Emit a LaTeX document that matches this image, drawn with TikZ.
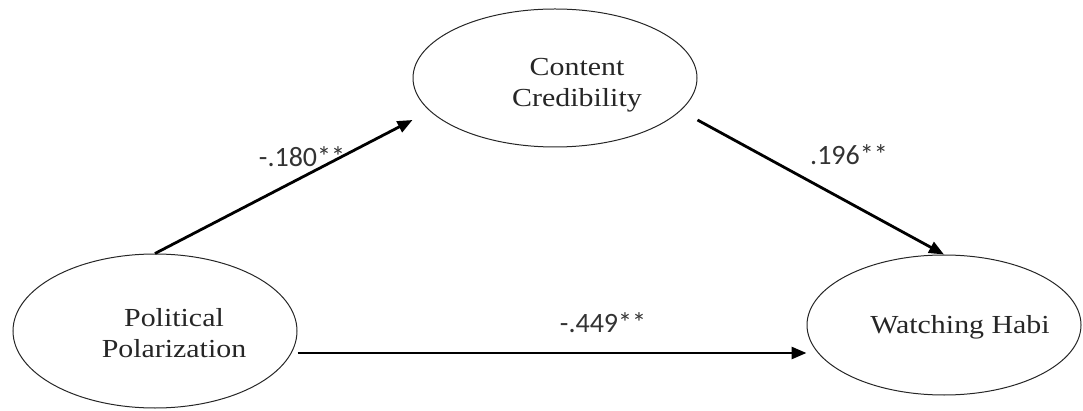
\documentclass[tikz,border=0pt]{standalone}
\usepackage{fontspec}
\setmainfont{Liberation Serif}
\newfontfamily\nodefont[FakeStretch=1.15]{Liberation Serif}
\newfontfamily\labfont{Carlito}
\usetikzlibrary{shapes.geometric,arrows.meta,calc}
\begin{document}
\begin{tikzpicture}[x=1pt,y=-1pt,
  oval/.style={draw=black!85,line width=1pt,ellipse,inner sep=0pt},
  ovaltext/.style={font=\nodefont\fontsize{26}{31}\selectfont,align=center,inner sep=0pt,text=black!85},
  coef/.style={font=\labfont\fontsize{28}{30}\selectfont,inner sep=0pt,anchor=base,text=black!80},
  path/.style={line width=2.8pt,-{Triangle[length=15pt,width=12pt]}}]
\useasboundingbox (0,0) rectangle (1083,411);
% ellipses
\node[oval,minimum width=284pt,minimum height=138pt] (cc) at (555,78) {};
\node[oval,minimum width=284pt,minimum height=154pt] (pp) at (155,331) {};
\node[oval,minimum width=274pt,minimum height=140pt] (wh) at (944,325) {};
% texts
\node[ovaltext] (cct) at (577,85) {Content\\Credibility};
\node[ovaltext] (ppt) at (174,333.5) {Political\\Polarization};
\node[ovaltext,anchor=base] (wht) at (960,333) {Watching Habi};
% connectors
\coordinate (a1) at ([yshift=-42pt]cc.west);
\coordinate (b1) at ([yshift=-42pt]cc.east);
\coordinate (h1) at ([yshift=-22pt]pp.east);
\coordinate (h2) at (h1 -| wh.west);
\draw[path] (pp.north) -- (a1);
\draw[path] (b1) -- (wh.north);
\draw[path] (h1) -- (h2);
% coefficients
\node[coef] (l1) at (302,167) {-.180**};
\node[coef] (l2) at (849,165) {.196**};
\node[coef] (l3) at (603,332) {-.449**};
\end{tikzpicture}
\end{document}
